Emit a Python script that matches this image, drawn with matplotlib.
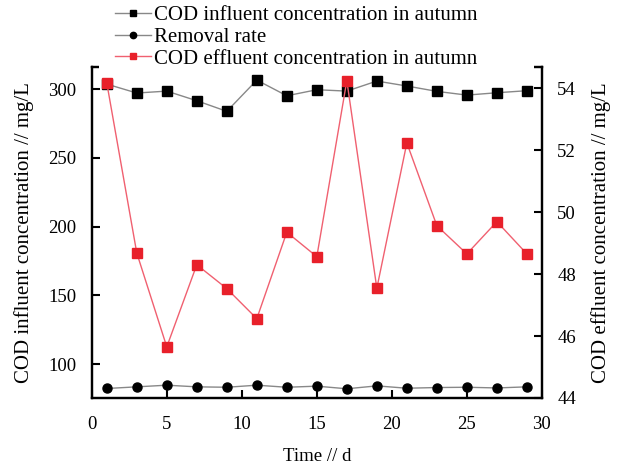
import matplotlib
matplotlib.use("Agg")
import matplotlib.pyplot as plt
from matplotlib.patches import Rectangle

# Data
days = [1, 3, 5, 7, 9, 11, 13, 15, 17, 19, 21, 23, 25, 27, 29]
influent = [303.6, 297.1, 298.5, 291.5, 283.8, 306.5, 295.1, 299.5,
            298.5, 305.8, 302.2, 298.3, 295.6, 297.3, 298.8]
removal = [82.4, 83.6, 84.8, 83.6, 83.3, 84.8, 83.3, 84.1,
           82.2, 84.3, 82.6, 83.1, 83.3, 82.8, 83.6]
effluent = [54.17, 48.68, 45.65, 48.30, 47.53, 46.56, 49.35, 48.56,
            54.24, 47.54, 52.23, 49.56, 48.65, 49.69, 48.65]

left_ticks = [100, 150, 200, 250, 300]
right_ticks = [44, 46, 48, 50, 52, 54]
x_ticks = [0, 5, 10, 15, 20, 25, 30]

plt.rcParams['font.family'] = ['Liberation Serif', 'DejaVu Serif']
plt.rcParams['font.size'] = 13.5

fig = plt.figure(figsize=(6.2, 4.69), dpi=100)
ax = fig.add_axes([0.148, 0.1514, 0.726, 0.7057])
ax2 = ax.twinx()

# -----------------------------------
# Series
# -----------------------------------
l1, = ax.plot(days, influent, color='#888888', lw=1.0, marker='s', ms=6.5,
              mfc='black', mec='black', label='COD influent concentration in autumn')
l2, = ax.plot(days, removal, color='#888888', lw=1.0, marker='o', ms=6.5,
              mfc='black', mec='black', label='Removal rate')
l3, = ax2.plot(days, effluent, color='#f06070', lw=1.0, marker='s', ms=6.5,
               mfc='#e8202a', mec='#e8202a', label='COD effluent concentration in autumn')

# -----------------------------------
# Axes
# -----------------------------------
ax.set_xlim(0, 30)
ax.set_ylim(75.5, 316)
ax2.set_ylim(44, 54.68)

ax.set_xticks(x_ticks)
ax.set_yticks(left_ticks)
ax2.set_yticks(right_ticks)

ax.tick_params(axis='x', direction='in', length=6, width=1.5, pad=13)
ax.tick_params(axis='y', direction='in', length=6, width=1.5, pad=11)
ax2.tick_params(axis='y', direction='in', length=6, width=1.5, pad=11)

for a in (ax, ax2):
    for s in a.spines.values():
        s.set_linewidth(1.6)

ax.set_xlabel("Time // d", labelpad=11)
ax.set_ylabel("COD influent concentration // mg/L", fontsize=15, labelpad=10)
ax2.set_ylabel("COD effluent concentration // mg/L", fontsize=15, labelpad=11)

# white strip hides the middle of the top frame, as in the original
ax2.add_patch(Rectangle((0.017, 0.99), 0.965, 0.03, transform=ax2.transAxes,
                        facecolor='white', edgecolor='none', clip_on=False, zorder=5))

leg = ax2.legend(handles=[l1, l2, l3], loc='lower left',
                 bbox_to_anchor=(0.051, 0.995), frameon=False, fontsize=15,
                 borderaxespad=0, borderpad=0, handlelength=1.75,
                 handletextpad=0.15, labelspacing=0.1, markerscale=0.7)
leg.set_zorder(10)

plt.savefig("out.png", dpi=100)
plt.close()
